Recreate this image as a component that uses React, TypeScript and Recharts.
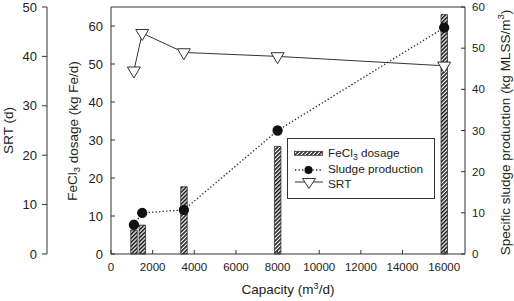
import React from 'react';
import { ComposedChart, Bar, Line, XAxis, YAxis, ReferenceLine, Legend, Label } from 'recharts';

// Plant capacity (m3/d) and the three measured series
const capacity = [1100, 1500, 3500, 8000, 16000];
const fecl3Dosage = [6.3, 7.6, 17.7, 28.3, 63];
const sludgeProduction = [7.1, 10.0, 10.7, 30.0, 55.0];
const srtDays = [37.1, 44.7, 40.8, 40.0, 38.1];

const capacityTicks = [0, 2000, 4000, 6000, 8000, 10000, 12000, 14000, 16000];
const srtTicks = [0, 10, 20, 30, 40, 50];
const dosageTicks = [0, 10, 20, 30, 40, 50, 60];
const sludgeTicks = [0, 10, 20, 30, 40, 50, 60];

const legendOrder = ['dosage', 'sludge', 'srt'];

const data = capacity.map((c, i) => ({
    capacity: c,
    dosage: fecl3Dosage[i],
    sludge: sludgeProduction[i],
    srt: srtDays[i],
}));

const FONT = '"Liberation Sans", Arial, sans-serif';
const INK = '#222';
const LINE = '#333';

const HatchPattern = ({ id }: { id: string }) => (
    <pattern id={id} width={2.8} height={2.8} patternUnits="userSpaceOnUse" patternTransform="rotate(45)">
        <rect width={2.8} height={2.8} fill="#fff" />
        <line x1={0.8} y1={0} x2={0.8} y2={2.8} stroke="#1a1a1a" strokeWidth={1.6} />
    </pattern>
);

// "FeCl3" -> FeCl with subscript 3
const chemName = (name: string) => {
    const m = name.match(/^(FeCl)3(.*)$/);
    if (!m) return name;
    return (
        <>
            {m[1]}
            <tspan dy={3} fontSize="0.72em">3</tspan>
            <tspan dy={-3}>{m[2]}</tspan>
        </>
    );
};

const TriangleDot = (props: any) => {
    const { cx, cy, index } = props;
    if (cx == null || cy == null) return null;
    return (
        <path
            key={`tri-${index}`}
            d={`M${cx - 6.5},${cy - 3.7}L${cx + 6.5},${cy - 3.7}L${cx},${cy + 7.3}Z`}
            fill="#fff"
            stroke={LINE}
            strokeWidth={1}
        />
    );
};

const SideTitle = ({ x, y, children }: { x: number; y: number; children: React.ReactNode }) => (
    <text
        x={x}
        y={y}
        transform={`rotate(-90 ${x} ${y})`}
        textAnchor="middle"
        dominantBaseline="central"
        fill={INK}
        fontSize={13.5}
        fontFamily={FONT}
    >
        {children}
    </text>
);

function ChartLegend({ payload }: any) {
    const items = legendOrder
        .map((k) => (payload || []).find((p: any) => p.dataKey === k))
        .filter(Boolean);
    const symbolRows = [15.3, 32, 44];
    const textRows = [19, 35.2, 49.5];
    return (
        <svg width={148} height={61} style={{ display: 'block' }}>
            <defs>
                <HatchPattern id="hatchLegend" />
            </defs>
            <rect x={0.5} y={0.5} width={147} height={60} fill="#fff" stroke={LINE} />
            {items.map((item: any, i: number) => {
                const cy = symbolRows[i];
                let symbol = null;
                if (item.dataKey === 'dosage') {
                    symbol = <rect x={7.5} y={cy - 2} width={28} height={4} fill="url(#hatchLegend)" stroke={LINE} strokeWidth={0.8} />;
                } else if (item.dataKey === 'sludge') {
                    symbol = (
                        <g>
                            <line x1={8} y1={cy} x2={36} y2={cy} stroke={INK} strokeWidth={1.3} strokeDasharray="1.3 2.2" />
                            <circle cx={21.5} cy={cy} r={4} fill="#111" />
                        </g>
                    );
                } else {
                    symbol = (
                        <g>
                            <line x1={8} y1={cy} x2={36} y2={cy} stroke={LINE} strokeWidth={1} />
                            <path d={`M${15.5},${cy - 3.5}L${28.5},${cy - 3.5}L${22},${cy + 6.5}Z`} fill="#fff" stroke={LINE} />
                        </g>
                    );
                }
                return (
                    <g key={item.dataKey}>
                        {symbol}
                        <text x={41} y={textRows[i]} fill={INK} fontSize={11.8} fontFamily={FONT}>
                            {chemName(String(item.value))}
                        </text>
                    </g>
                );
            })}
        </svg>
    );
}

export default function App() {
    const tickStyleSmall = { fill: INK, fontSize: 11.5, fontFamily: FONT };
    const tickStyleLeft = { fill: INK, fontSize: 13, fontFamily: FONT };

    return (
        <div style={{ position: 'absolute', left: 0, top: 0, width: 514, height: 301, background: '#fff' }}>
            <ComposedChart width={514} height={301} data={data} margin={{ top: 7, right: 0, bottom: 0, left: 0 }}>
                <defs>
                    <HatchPattern id="hatchBar" />
                </defs>
                <XAxis
                    dataKey="capacity"
                    type="number"
                    domain={[0, 17000]}
                    ticks={capacityTicks}
                    interval={0}
                    height={47}
                    tickSize={-4}
                    tickMargin={13}
                    tick={tickStyleSmall}
                    stroke={LINE}
                    axisLine={{ stroke: LINE }}
                    tickLine={{ stroke: LINE }}
                >
                    <Label
                        content={(props: any) => {
                            const vb = props.viewBox || {};
                            return (
                                <text
                                    x={vb.x + vb.width / 2}
                                    y={vb.y + 39.5}
                                    textAnchor="middle"
                                    fill={INK}
                                    fontSize={13.5}
                                    fontFamily={FONT}
                                >
                                    Capacity (m<tspan dy={-5} fontSize={9}>3</tspan>
                                    <tspan dy={5}>/d)</tspan>
                                </text>
                            );
                        }}
                    />
                </XAxis>
                <YAxis
                    yAxisId="dosage"
                    orientation="left"
                    width={64}
                    domain={[0, 65]}
                    ticks={dosageTicks}
                    interval={0}
                    tickSize={-4}
                    tickMargin={12}
                    tick={tickStyleLeft}
                    axisLine={{ stroke: LINE }}
                    tickLine={{ stroke: LINE }}
                >
                    <Label
                        content={(props: any) => {
                            const vb = props.viewBox || {};
                            return (
                                <SideTitle x={vb.x + 25.5} y={vb.y + vb.height / 2 + 0.5}>
                                    FeCl<tspan dy={3} fontSize={9.5}>3</tspan>
                                    <tspan dy={-3}> dosage (kg Fe/d)</tspan>
                                </SideTitle>
                            );
                        }}
                    />
                </YAxis>
                <YAxis
                    yAxisId="srt"
                    orientation="left"
                    width={47}
                    domain={[0, 50]}
                    ticks={srtTicks}
                    interval={0}
                    tickSize={5}
                    tickMargin={5}
                    tick={tickStyleLeft}
                    axisLine={{ stroke: LINE }}
                    tickLine={{ stroke: LINE }}
                >
                    <Label
                        content={(props: any) => {
                            const vb = props.viewBox || {};
                            return (
                                <SideTitle x={vb.x + 8} y={vb.y + vb.height / 2}>
                                    SRT (d)
                                </SideTitle>
                            );
                        }}
                    />
                </YAxis>
                <YAxis
                    yAxisId="sludge"
                    orientation="right"
                    width={49}
                    domain={[0, 60]}
                    ticks={sludgeTicks}
                    interval={0}
                    tickSize={-4}
                    tickMargin={11}
                    tick={tickStyleSmall}
                    axisLine={{ stroke: LINE }}
                    tickLine={{ stroke: LINE }}
                >
                    <Label
                        content={(props: any) => {
                            const vb = props.viewBox || {};
                            return (
                                <SideTitle x={vb.x + 40} y={vb.y + vb.height / 2 + 2}>
                                    Specific sludge production (kg MLSS/m<tspan dy={-5} fontSize={9.5}>3</tspan>
                                    <tspan dy={5}>)</tspan>
                                </SideTitle>
                            );
                        }}
                    />
                </YAxis>
                <ReferenceLine yAxisId="dosage" y={65} stroke={LINE} ifOverflow="visible" />
                <Bar
                    yAxisId="dosage"
                    dataKey="dosage"
                    name="FeCl3 dosage"
                    barSize={6.5}
                    fill="url(#hatchBar)"
                    stroke={LINE}
                    strokeWidth={0.8}
                    isAnimationActive={false}
                />
                <Line
                    yAxisId="sludge"
                    dataKey="sludge"
                    name="Sludge production"
                    type="linear"
                    stroke={INK}
                    strokeWidth={1.3}
                    strokeDasharray="1.3 2.2"
                    dot={{ r: 4.5, fill: '#111', stroke: '#111', strokeDasharray: '' }}
                    activeDot={false}
                    isAnimationActive={false}
                />
                <Line
                    yAxisId="srt"
                    dataKey="srt"
                    name="SRT"
                    type="linear"
                    stroke={LINE}
                    strokeWidth={1}
                    dot={<TriangleDot />}
                    activeDot={false}
                    isAnimationActive={false}
                />
                <Legend
                    layout="horizontal"
                    verticalAlign="middle"
                    align="center"
                    content={<ChartLegend />}
                    wrapperStyle={{ position: 'absolute', left: 287, top: 138, width: 148, height: 61 }}
                />
            </ComposedChart>
        </div>
    );
}
